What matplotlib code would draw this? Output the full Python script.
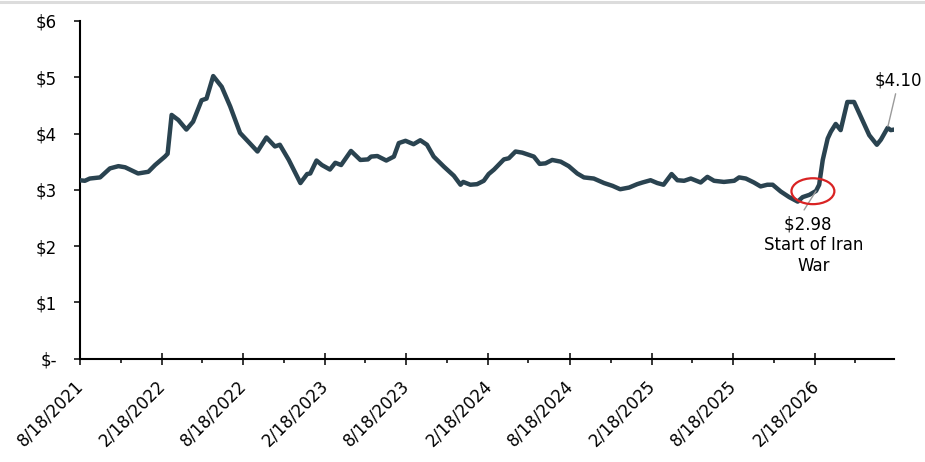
import matplotlib
matplotlib.use('Agg')
import matplotlib.pyplot as plt
import matplotlib.dates as mdates
import matplotlib.transforms as mtransforms
from matplotlib.patches import Ellipse
from matplotlib.lines import Line2D
from matplotlib.ticker import FuncFormatter
import pandas as pd

# Weekly average retail gas price
dates = [
    '2021-08-18', '2021-08-30', '2021-09-10', '2021-10-03', '2021-10-25', '2021-11-13',
    '2021-11-28', '2021-12-27', '2022-01-19', '2022-02-03', '2022-02-25', '2022-03-03',
    '2022-03-12', '2022-03-27', '2022-04-14', '2022-04-29', '2022-05-18', '2022-05-29',
    '2022-06-13', '2022-07-02', '2022-07-21', '2022-08-12', '2022-08-31', '2022-09-20',
    '2022-10-10', '2022-10-29', '2022-11-09', '2022-11-29', '2022-12-25', '2023-01-09',
    '2023-01-16', '2023-01-30', '2023-02-11', '2023-03-01', '2023-03-13', '2023-03-26',
    '2023-04-17', '2023-05-08', '2023-05-25', '2023-06-01', '2023-06-15', '2023-07-05',
    '2023-07-22', '2023-08-02', '2023-08-17', '2023-09-04', '2023-09-19', '2023-10-04',
    '2023-10-19', '2023-11-11', '2023-12-03', '2023-12-18', '2023-12-24', '2024-01-09',
    '2024-01-24', '2024-02-08', '2024-02-19', '2024-03-02', '2024-03-24', '2024-04-04',
    '2024-04-19', '2024-05-04', '2024-05-19', '2024-05-30', '2024-06-12', '2024-06-25',
    '2024-07-10', '2024-07-29', '2024-08-16', '2024-09-04', '2024-09-19', '2024-10-11',
    '2024-11-03', '2024-11-22', '2024-12-09', '2024-12-29', '2025-01-16', '2025-01-28',
    '2025-02-15', '2025-03-02', '2025-03-16', '2025-04-03', '2025-04-16', '2025-05-01',
    '2025-05-16', '2025-06-07', '2025-06-22', '2025-07-07', '2025-07-29', '2025-08-21',
    '2025-09-01', '2025-09-16', '2025-10-04', '2025-10-19', '2025-11-03', '2025-11-15',
    '2025-12-03', '2025-12-22', '2026-01-10', '2026-01-21', '2026-02-05', '2026-02-20',
    '2026-02-27', '2026-03-07', '2026-03-18', '2026-03-25', '2026-04-05', '2026-04-16',
    '2026-05-01', '2026-05-16', '2026-05-31', '2026-06-19', '2026-07-06', '2026-07-15',
    '2026-07-30', '2026-08-06', '2026-08-14',
]
prices = [
    3.17, 3.16, 3.20, 3.22, 3.38, 3.42,
    3.40, 3.29, 3.32, 3.44, 3.59, 3.64,
    4.33, 4.24, 4.07, 4.21, 4.59, 4.62,
    5.02, 4.83, 4.48, 4.01, 3.85, 3.68,
    3.93, 3.77, 3.80, 3.53, 3.12, 3.28,
    3.29, 3.52, 3.44, 3.36, 3.48, 3.44,
    3.69, 3.53, 3.54, 3.59, 3.60, 3.52,
    3.59, 3.83, 3.87, 3.81, 3.88, 3.80,
    3.59, 3.41, 3.25, 3.09, 3.14, 3.09,
    3.10, 3.16, 3.28, 3.36, 3.54, 3.56,
    3.68, 3.66, 3.62, 3.59, 3.46, 3.47,
    3.53, 3.50, 3.42, 3.29, 3.22, 3.20,
    3.12, 3.07, 3.01, 3.04, 3.10, 3.13,
    3.17, 3.12, 3.09, 3.28, 3.17, 3.16,
    3.20, 3.13, 3.23, 3.16, 3.14, 3.16,
    3.22, 3.20, 3.13, 3.06, 3.09, 3.09,
    2.97, 2.87, 2.79, 2.87, 2.91, 2.98,
    3.09, 3.53, 3.91, 4.03, 4.17, 4.06,
    4.56, 4.56, 4.30, 3.97, 3.80, 3.89,
    4.10, 4.06, 4.07,
]

war_date, war_price = '2026-02-20', 2.98
last_date, last_price = '2026-07-30', 4.10
y_ticks = [0, 1, 2, 3, 4, 5, 6]
y_labels = ['$-', '$1', '$2', '$3', '$4', '$5', '$6']

x = pd.to_datetime(dates)

plt.rcParams['font.family'] = ['DejaVu Sans']
fig = plt.figure(figsize=(9.25, 4.62), dpi=100)
ax = fig.add_axes([79.5 / 925, 103.3 / 462, 814.8 / 925, 337.8 / 462])

ax.plot(x, prices, color='#2a4350', linewidth=3.2, solid_capstyle='round',
        solid_joinstyle='round', zorder=3)

ax.set_xlim(pd.Timestamp('2021-08-18'), pd.Timestamp('2026-08-14'))
ax.set_ylim(0, 6)

for side in ['top', 'right']:
    ax.spines[side].set_visible(False)
for side in ['left', 'bottom']:
    ax.spines[side].set_linewidth(1.5)
    ax.spines[side].set_color('black')

ax.set_yticks(y_ticks)
ax.set_yticklabels(y_labels)
ax.tick_params(axis='y', direction='out', length=4.3, width=1.1, pad=12,
               labelsize=12, colors='black')

ax.xaxis.set_major_locator(mdates.MonthLocator(bymonth=(2, 8), bymonthday=18))
ax.xaxis.set_minor_locator(mdates.MonthLocator(bymonth=(5, 11), bymonthday=18))
ax.xaxis.set_major_formatter(FuncFormatter(
    lambda v, pos: '{d.month}/{d.day}/{d.year}'.format(d=mdates.num2date(v))))
ax.tick_params(axis='x', which='major', direction='inout', length=8.6, width=1.1,
               pad=13, labelsize=12, colors='black')
ax.tick_params(axis='x', which='minor', direction='out', length=3.2, width=1.1)
shift = mtransforms.ScaledTranslation(1 / 100, 0, fig.dpi_scale_trans)
for lab in ax.get_xticklabels():
    lab.set_rotation(45)
    lab.set_ha('right')
    lab.set_va('center')
    lab.set_rotation_mode('anchor')
    lab.set_transform(lab.get_transform() + shift)

# Red ring around the start of the war
ring = Ellipse((mdates.date2num(pd.Timestamp('2026-02-13')), 2.975), width=96, height=0.46,
               fill=False, edgecolor='#d92323', linewidth=1.6, zorder=4)
ax.add_patch(ring)

# Callouts
wx = pd.Timestamp(war_date)
ax.annotate('', xy=(wx, war_price), xytext=(-8.6, -13.7), textcoords='offset points',
            arrowprops=dict(arrowstyle='-', color='#9a9a9a', lw=1.0, shrinkA=0, shrinkB=0),
            annotation_clip=False)
ax.annotate('$' + f'{war_price:.2f}' + '  \nStart of Iran\nWar', xy=(wx, war_price),
            xytext=(-2, -39), textcoords='offset points', ha='center', va='center',
            fontsize=12, linespacing=1.2, annotation_clip=False)

lx = pd.Timestamp(last_date)
ax.annotate('$' + f'{last_price:.2f}', xy=(lx, last_price), xytext=(8, 34),
            textcoords='offset points', ha='center', va='center', fontsize=12,
            arrowprops=dict(arrowstyle='-', color='#9a9a9a', lw=1.0, shrinkA=1, shrinkB=1),
            annotation_clip=False)

# thin grey band along the top edge
fig.add_artist(Line2D([0, 1], [1 - 1.5 / 462, 1 - 1.5 / 462], color='#dcdcdc',
                      linewidth=2.2, transform=fig.transFigure))

fig.savefig('out.png', dpi=100)
